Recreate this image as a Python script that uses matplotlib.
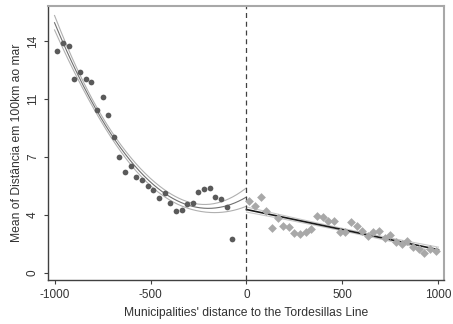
import numpy as np
import matplotlib
matplotlib.use("Agg")
import matplotlib.pyplot as plt

plt.rcParams['font.family'] = ['Liberation Sans', 'DejaVu Sans']

# binned means, west of the line (negative distance)
left_x = [-985.3, -955.9, -926.5, -897.0, -867.6, -838.2, -808.8, -779.4, -750.0,
          -720.6, -691.2, -661.8, -632.4, -602.9, -573.5, -544.1, -514.7, -485.3,
          -455.9, -426.5, -397.0, -367.6, -338.2, -308.8, -279.4, -250.0, -220.6,
          -191.2, -161.8, -132.4, -102.9, -73.5]
left_y = [13.40, 13.86, 13.72, 11.69, 12.15, 11.69, 11.51, 9.82, 10.62,
          9.55, 8.21, 6.98, 6.11, 6.48, 5.77, 5.61, 5.25, 5.01,
          4.55, 4.81, 4.24, 3.76, 3.82, 4.14, 4.24, 4.91, 5.09,
          5.11, 4.61, 4.45, 3.96, 2.07]

# binned means, east of the line
right_x = [14.7, 44.1, 73.5, 102.9, 132.4, 161.8, 191.2, 220.6, 250.0, 279.4,
           308.8, 338.2, 367.6, 397.0, 426.5, 455.9, 485.3, 514.7, 544.1, 573.5,
           602.9, 632.4, 661.8, 691.2, 720.6, 750.0, 779.4, 808.8, 838.2, 867.6,
           897.0, 926.5, 955.9, 985.3]
right_y = [4.36, 4.05, 4.60, 3.76, 2.70, 3.30, 2.84, 2.76, 2.40, 2.35,
           2.49, 2.64, 3.46, 3.40, 3.16, 3.14, 2.49, 2.47, 3.10, 2.84,
           2.55, 2.25, 2.47, 2.52, 2.11, 2.29, 1.87, 1.75, 1.91, 1.55,
           1.45, 1.19, 1.47, 1.35]

x_ticks = [-1000, -500, 0, 500, 1000]
y_ticks = [0, 3.5, 7, 10.5, 14]
y_ticklabels = ['0', '4', '7', '11', '14']

# the original bands come from the municipality-level data, so they are
# narrower than a fit on the bin means would give
ci_mult = 1.0


def fit_ci(x, y, deg, xs):
    x = np.asarray(x)
    y = np.asarray(y)
    X = np.vander(x, deg + 1)
    beta, *_ = np.linalg.lstsq(X, y, rcond=None)
    resid = y - X @ beta
    s2 = resid @ resid / (len(x) - deg - 1)
    cov = s2 * np.linalg.inv(X.T @ X)
    Xs = np.vander(xs, deg + 1)
    yhat = Xs @ beta
    se = np.sqrt(np.einsum('ij,jk,ik->i', Xs, cov, Xs))
    return yhat, yhat - ci_mult * se, yhat + ci_mult * se


fig = plt.figure(figsize=(4.53, 3.24), dpi=100)
ax = fig.add_axes([0.106, 0.136, 0.874, 0.845])

xs_l = np.linspace(-1000, 0, 200)
yh, lo, hi = fit_ci(left_x, left_y, 2, xs_l)
ax.plot(xs_l, lo, color='#b0b0b0', lw=0.8)
ax.plot(xs_l, hi, color='#b0b0b0', lw=0.8)
ax.plot(xs_l, yh, color='#707070', lw=0.8)

xs_r = np.linspace(0, 1000, 100)
yh, lo, hi = fit_ci(right_x, right_y, 1, xs_r)
ax.plot(xs_r, lo, color='#c8c8c8', lw=0.8)
ax.plot(xs_r, hi, color='#c8c8c8', lw=0.8)
ax.plot(xs_r, yh, color='#1a1a1a', lw=1.2)

ax.scatter(left_x, left_y, s=17, marker='o', color='#5a5a5a', linewidths=0, zorder=3)
ax.scatter(right_x, right_y, s=20, marker='D', color='#a8a8a8', linewidths=0, zorder=3)

ax.axvline(0, color='#404040', lw=0.9, ls=(0, (4, 3)))

ax.set_xlim(-1034, 1029)
ax.set_ylim(-0.42, 16.11)
ax.set_xticks(x_ticks)
ax.set_xticklabels([str(t) for t in x_ticks])
ax.set_yticks(y_ticks)
ax.set_yticklabels(y_ticklabels, rotation=90, va='center')
ax.tick_params(labelsize=8.5, length=3, width=0.8, colors='#404040', labelcolor='#333333')

for side in ['left', 'bottom']:
    ax.spines[side].set_color('#404040')
    ax.spines[side].set_linewidth(1.0)
for side in ['top', 'right']:
    ax.spines[side].set_color('#a8a8a8')
    ax.spines[side].set_linewidth(1.5)

ax.set_xlabel("Municipalities' distance to the Tordesillas Line", fontsize=8.7, color='#333333')
ax.set_ylabel("Mean of Distância em 100km ao mar", fontsize=8.7, color='#333333', labelpad=3)

fig.savefig('out.png', dpi=100)
